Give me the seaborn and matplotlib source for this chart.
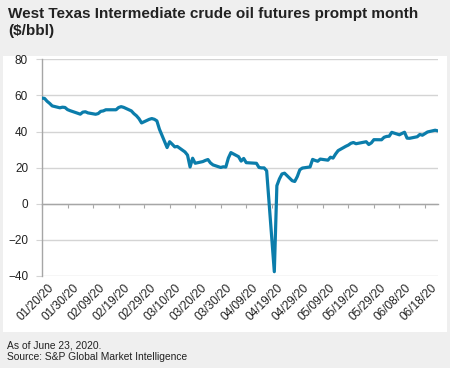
import pandas as pd
import numpy as np
import matplotlib
matplotlib.use('Agg')
import matplotlib.pyplot as plt
import matplotlib.dates as mdates
import matplotlib.transforms as mtrans
from matplotlib.patches import Rectangle
import seaborn as sns

# WTI prompt month settlements
dates = ['2020-01-20', '2020-01-21', '2020-01-22', '2020-01-23', '2020-01-24',
         '2020-01-27', '2020-01-28', '2020-01-29', '2020-01-30', '2020-01-31',
         '2020-02-03', '2020-02-04', '2020-02-05', '2020-02-06', '2020-02-07',
         '2020-02-10', '2020-02-11', '2020-02-12', '2020-02-13', '2020-02-14',
         '2020-02-18', '2020-02-19', '2020-02-20', '2020-02-21',
         '2020-02-24', '2020-02-25', '2020-02-26', '2020-02-27', '2020-02-28',
         '2020-03-02', '2020-03-03', '2020-03-04', '2020-03-05', '2020-03-06',
         '2020-03-09', '2020-03-10', '2020-03-11', '2020-03-12', '2020-03-13',
         '2020-03-16', '2020-03-17', '2020-03-18', '2020-03-19', '2020-03-20',
         '2020-03-23', '2020-03-24', '2020-03-25', '2020-03-26', '2020-03-27',
         '2020-03-30', '2020-03-31', '2020-04-01', '2020-04-02', '2020-04-03',
         '2020-04-06', '2020-04-07', '2020-04-08', '2020-04-09',
         '2020-04-13', '2020-04-14', '2020-04-15', '2020-04-16', '2020-04-17',
         '2020-04-20', '2020-04-21', '2020-04-22', '2020-04-23', '2020-04-24',
         '2020-04-27', '2020-04-28', '2020-04-29', '2020-04-30', '2020-05-01',
         '2020-05-04', '2020-05-05', '2020-05-06', '2020-05-07', '2020-05-08',
         '2020-05-11', '2020-05-12', '2020-05-13', '2020-05-14', '2020-05-15',
         '2020-05-18', '2020-05-19', '2020-05-20', '2020-05-21', '2020-05-22',
         '2020-05-26', '2020-05-27', '2020-05-28', '2020-05-29',
         '2020-06-01', '2020-06-02', '2020-06-03', '2020-06-04', '2020-06-05',
         '2020-06-08', '2020-06-09', '2020-06-10', '2020-06-11', '2020-06-12',
         '2020-06-15', '2020-06-16', '2020-06-17', '2020-06-18', '2020-06-19',
         '2020-06-22', '2020-06-23']
prices = [58.5, 58.34, 56.74, 55.59, 54.19,
          53.14, 53.48, 53.33, 52.14, 51.56,
          50.11, 49.61, 50.75, 50.95, 50.32,
          49.57, 49.94, 51.17, 51.42, 52.05,
          52.05, 53.29, 53.78, 53.38,
          51.43, 49.90, 48.73, 47.09, 44.76,
          46.75, 47.18, 46.78, 45.90, 41.28,
          31.13, 34.36, 32.98, 31.50, 31.73,
          28.70, 26.95, 20.37, 25.22, 22.43,
          23.36, 24.01, 24.49, 22.60, 21.51,
          20.09, 20.48, 20.31, 25.32, 28.34,
          26.08, 23.63, 25.09, 22.76,
          22.41, 20.11, 19.87, 19.87, 18.27,
          -37.63, 10.01, 13.78, 16.50, 16.94,
          12.78, 12.34, 15.06, 18.84, 19.78,
          20.39, 24.56, 23.99, 23.55, 24.74,
          24.14, 25.78, 25.29, 27.56, 29.43,
          31.82, 32.50, 33.49, 33.92, 33.25,
          34.35, 32.81, 33.71, 35.49,
          35.44, 36.81, 37.29, 37.41, 39.55,
          38.19, 38.94, 39.60, 36.34, 36.26,
          37.12, 38.38, 37.96, 38.84, 39.75,
          40.73, 40.37]
y_ticks = [-40, -20, 0, 20, 40, 60, 80]

df = pd.DataFrame({'date': pd.to_datetime(dates), 'price': prices})

sns.set_style('white')
plt.rcParams['font.family'] = ['Liberation Sans', 'DejaVu Sans']

fig = plt.figure(figsize=(4.5, 3.68), dpi=100, facecolor='#efefef')
fig.patches.append(Rectangle((3 / 450, 1 - 332 / 368), 444 / 450, 276 / 368,
                             transform=fig.transFigure, facecolor='white',
                             edgecolor='none', zorder=-5))

ax = fig.add_axes([42 / 450, 1 - 276 / 368, 395.7 / 450, 216.7 / 368])
ax.set_facecolor('none')

sns.lineplot(data=df, x='date', y='price', ax=ax, color='#0b7dab',
             linewidth=2.3, zorder=3)

ax.set_ylim(-40, 80)
ax.set_xlim(pd.Timestamp('2020-01-20'), pd.Timestamp('2020-06-23'))
ax.set_yticks(y_ticks)
ax.yaxis.grid(True, color='#d4d4d4', linewidth=1.0)
ax.set_xlabel('')
ax.set_ylabel('')

for s in ['top', 'right']:
    ax.spines[s].set_visible(False)
ax.spines['left'].set_color('#a6a6a6')
ax.spines['left'].set_linewidth(1.0)
ax.spines['bottom'].set_position(('data', 0))
ax.spines['bottom'].set_color('#a6a6a6')
ax.spines['bottom'].set_linewidth(1.0)
ax.spines['bottom'].set_zorder(2)

xticks = pd.date_range('2020-01-20', '2020-06-18', freq='10D')
ax.set_xticks(xticks)
ax.tick_params(axis='x', direction='out', length=3, color='#a6a6a6',
               labelbottom=False, bottom=True)
ax.tick_params(axis='y', direction='out', length=4, color='#d4d4d4',
               labelsize=8.5, pad=6, left=True, labelcolor='#222222')

# date labels sit under the plot, not at the zero line
sec = ax.secondary_xaxis('bottom')
sec.set_xticks(xticks)
sec.xaxis.set_major_formatter(mdates.DateFormatter('%m/%d/%y'))
sec.spines['bottom'].set_visible(False)
sec.tick_params(length=0, labelsize=8.6, pad=4, labelcolor='#222222')
shift = mtrans.ScaledTranslation(4 / 72, 0, fig.dpi_scale_trans)
for lbl in sec.get_xticklabels():
    lbl.set_rotation(45)
    lbl.set_ha('right')
    lbl.set_rotation_mode('anchor')
    lbl.set_transform(lbl.get_transform() + shift)

fig.text(8 / 450, 1 - 7 / 368,
         'West Texas Intermediate crude oil futures prompt month\n($/bbl)',
         ha='left', va='top', fontsize=11, fontweight='bold', color='#222222',
         linespacing=1.25)
fig.text(7 / 450, 1 - 340 / 368,
         'As of June 23, 2020.\nSource: S&P Global Market Intelligence',
         ha='left', va='top', fontsize=7.4, color='#222222', linespacing=1.3)

fig.savefig('out.png', dpi=100, facecolor=fig.get_facecolor())
